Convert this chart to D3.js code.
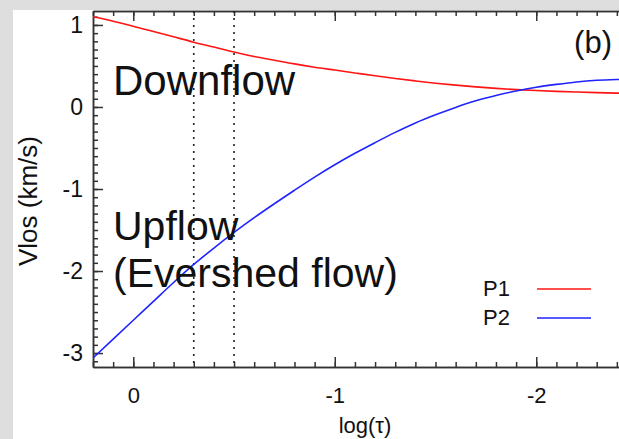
<!DOCTYPE html>
<html lang="en">

<head>
    <meta charset="UTF-8">
    <script src="https://d3js.org/d3.v7.min.js"></script>
    <title>Vlos profiles</title>
    <style>
        body { margin: 0; background: #dedede; }
        svg { display: block; }
        text { font-family: "Liberation Sans", Arial, sans-serif; fill: #111; }
        .axis path, .axis line { stroke: #333; stroke-width: 1.5; }
    </style>
</head>

<body>
    <svg id="chart" width="619" height="439"></svg>
    <script>
        // values
        const logTau = [0.2, 0.1, 0.0, -0.1, -0.2, -0.3, -0.4, -0.5, -0.6, -0.7, -0.8, -0.9, -1.0, -1.1, -1.2,
            -1.3, -1.4, -1.5, -1.6, -1.7, -1.8, -1.9, -2.0, -2.1, -2.2, -2.3, -2.4, -2.5];
        const p1 = [1.10, 1.045, 0.985, 0.92, 0.855, 0.79, 0.73, 0.67, 0.615, 0.57, 0.525, 0.485, 0.45, 0.415, 0.38,
            0.348, 0.318, 0.29, 0.266, 0.245, 0.227, 0.212, 0.20, 0.19, 0.182, 0.175, 0.169, 0.164];
        const p2 = [-3.06, -2.83, -2.60, -2.37, -2.14, -1.92, -1.72, -1.53, -1.35, -1.18, -1.015, -0.855, -0.705, -0.565, -0.435,
            -0.31, -0.195, -0.095, -0.005, 0.075, 0.14, 0.195, 0.24, 0.275, 0.305, 0.325, 0.335, 0.34];
        const markerTau = [-0.3, -0.5];
        const xTicks = [0, -1, -2];
        const yTicks = [-3, -2, -1, 0, 1];
        const seriesNames = ["P1", "P2"];
        const seriesColors = ["#ff1414", "#1f24ff"];

        const svg = d3.select("#chart");

        // white panel on the grey slide
        svg.append("rect")
            .attr("x", 13).attr("y", 10)
            .attr("width", 606).attr("height", 429)
            .attr("fill", "#fff");

        const plotLeft = 93, plotRight = 637, plotTop = 11, plotBottom = 367;

        const x = d3.scaleLinear().domain([0.2, -2.5]).range([plotLeft, plotRight]);
        const y = d3.scaleLinear().domain([-3.17, 1.17]).range([plotBottom, plotTop]);

        svg.append("defs").append("clipPath").attr("id", "plot")
            .append("rect")
            .attr("x", plotLeft).attr("y", plotTop)
            .attr("width", plotRight - plotLeft).attr("height", plotBottom - plotTop);

        // minor ticks every 0.1
        const xMinor = d3.range(-25, 3).map(i => i / 10);
        const yMinor = d3.range(-31, 12).map(i => i / 10);
        const plainNum = d => String(d); // keep the hyphen minus

        // bottom axis
        svg.append("g").attr("class", "axis")
            .attr("transform", `translate(0,${plotBottom})`)
            .call(d3.axisBottom(x).tickValues(xMinor).tickSize(-5).tickSizeOuter(0).tickFormat(""));
        const xAxis = svg.append("g").attr("class", "axis")
            .attr("transform", `translate(0,${plotBottom})`)
            .call(d3.axisBottom(x).tickValues(xTicks).tickSize(-10).tickSizeOuter(0).tickPadding(20)
                .tickFormat(plainNum));
        xAxis.selectAll("text").style("font-size", "22px").attr("fill", "#111");

        // top axis, ticks only
        svg.append("g").attr("class", "axis")
            .attr("transform", `translate(0,${plotTop})`)
            .call(d3.axisTop(x).tickValues(xMinor).tickSize(-5).tickSizeOuter(0).tickFormat(""));
        svg.append("g").attr("class", "axis")
            .attr("transform", `translate(0,${plotTop})`)
            .call(d3.axisTop(x).tickValues(xTicks).tickSize(-10).tickSizeOuter(0).tickFormat(""));

        // left axis
        svg.append("g").attr("class", "axis")
            .attr("transform", `translate(${plotLeft},0)`)
            .call(d3.axisLeft(y).tickValues(yMinor).tickSize(-5).tickSizeOuter(0).tickFormat(""));
        const yAxis = svg.append("g").attr("class", "axis")
            .attr("transform", `translate(${plotLeft},0)`)
            .call(d3.axisLeft(y).tickValues(yTicks).tickSize(-10).tickSizeOuter(0).tickPadding(10)
                .tickFormat(plainNum));
        yAxis.selectAll("text").style("font-size", "23px").attr("fill", "#111");
        svg.selectAll(".axis text").style("font-family", "'Liberation Sans', Arial, sans-serif");

        // dotted markers
        svg.selectAll(".marker")
            .data(markerTau)
            .enter().append("line")
            .attr("class", "marker")
            .attr("x1", d => x(d)).attr("x2", d => x(d))
            .attr("y1", plotTop).attr("y2", plotBottom)
            .attr("stroke", "#222")
            .attr("stroke-width", 1.6)
            .attr("stroke-dasharray", "2,5");

        // curves
        const line = d3.line()
            .x((d, i) => x(logTau[i]))
            .y(d => y(d))
            .curve(d3.curveMonotoneX);

        svg.append("g").attr("clip-path", "url(#plot)")
            .selectAll(".curve")
            .data([p1, p2])
            .enter().append("path")
            .attr("class", "curve")
            .attr("d", line)
            .attr("fill", "none")
            .attr("stroke", (d, i) => seriesColors[i])
            .attr("stroke-width", 1.6);

        // annotations
        svg.append("text").attr("x", 113).attr("y", 95)
            .style("font-size", "42px").text("Downflow");
        svg.append("text").attr("x", 113).attr("y", 240)
            .style("font-size", "41px").text("Upflow");
        svg.append("text").attr("x", 113).attr("y", 287)
            .style("font-size", "41px").text("(Evershed flow)");
        svg.append("text").attr("x", 612).attr("y", 53)
            .attr("text-anchor", "end")
            .style("font-size", "31px").text("(b)");

        // legend
        const legend = svg.selectAll(".legend")
            .data(seriesNames)
            .enter().append("g")
            .attr("class", "legend")
            .attr("transform", (d, i) => `translate(0,${289 + i * 29})`);
        legend.append("text")
            .attr("x", 510).attr("y", 7)
            .attr("text-anchor", "end")
            .style("font-size", "22px")
            .text(d => d);
        legend.append("line")
            .attr("x1", 537).attr("x2", 591)
            .attr("y1", 0).attr("y2", 0)
            .attr("stroke", (d, i) => seriesColors[i])
            .attr("stroke-width", 1.6);

        // axis titles
        svg.append("text")
            .attr("x", 365).attr("y", 433)
            .attr("text-anchor", "middle")
            .style("font-size", "22px")
            .text("log(τ)");
        svg.append("text")
            .attr("transform", "translate(37,201) rotate(-90)")
            .attr("text-anchor", "middle")
            .style("font-size", "26px")
            .text("Vlos (km/s)");
    </script>
</body>

</html>
